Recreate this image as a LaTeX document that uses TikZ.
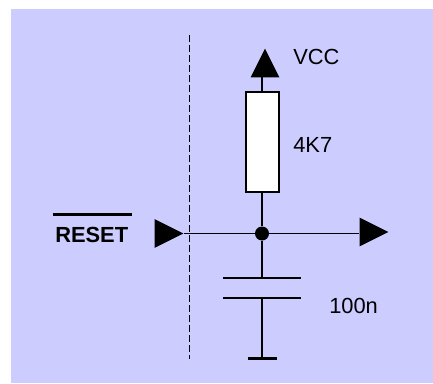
\documentclass[tikz,border=0pt]{standalone}
\usepackage{fontspec}
\setmainfont{Liberation Sans}
\usetikzlibrary{shapes.geometric}
\definecolor{panel}{HTML}{CCCCFF}
\tikzstyle{wire} = [line width=1.2pt, black]
\tikzstyle{plate} = [line width=1.4pt, black]
\tikzstyle{resbox} = [rectangle, minimum width=24.75pt, minimum height=75pt, inner sep=0pt, fill=white, draw=black, line width=1pt]
\tikzstyle{tip} = [isosceles triangle, isosceles triangle stretches, minimum width=21.5pt, minimum height=21.5pt, inner sep=0pt, fill=black]
\tikzstyle{dotnode} = [circle, minimum size=10.5pt, inner sep=0pt, fill=black]
\tikzstyle{lbl} = [inner sep=0pt, anchor=base west, font=\fontsize{16.4}{19}\selectfont]

\begin{document}
\begin{tikzpicture}[x=0.75pt, y=-0.75pt]
        \useasboundingbox (0,0) rectangle (433,383);
        \fill[panel] (11,9) rectangle (433,383);

        \node[resbox] (res) at (262.5,142) {};
        \node[dotnode] (dot) at (262,233.5) {};
        \node[tip, anchor=apex] (inp) at (184,233.5) {};
        \node[tip, anchor=apex] (outp) at (389,232) {};
        \node[tip, rotate=90, anchor=apex] (vcc) at (265,48) {};

        \coordinate (vccwire) at (262,77);
        \coordinate (capa) at (262,278);
        \coordinate (capb) at (262,298);
        \coordinate (gnd) at (262,358.5);
        \coordinate (sepa) at (189.5,35);
        \coordinate (sepb) at (189.5,359);

        % Wires
        \draw[wire] (inp.apex) -- (dot);
        \draw[wire] (dot) -- (outp.west |- dot);
        \draw[plate] (vccwire) -- (res.north -| vccwire);
        \draw[plate] (res.south -| dot) -- (dot);
        \draw[plate] (dot) -- (capa);
        \draw[plate] (capb) -- (gnd);

        % Capacitor and ground
        \draw[plate] (capa) ++(-39,0) -- ++(78,0);
        \draw[plate] (capb) ++(-39,0) -- ++(78,0);
        \draw[line width=2.2pt] (gnd) ++(-14.5,0) -- ++(29,0);

        % Boundary
        \draw[line width=1.2pt, dash pattern=on 5pt off 2.5pt] (sepa) -- (sepb);

        % Text Labels
        \node[lbl] (vcclabel) at (293,64) {VCC};
        \node[lbl] (reslabel) at (293,152) {4K7};
        \node[lbl] (caplabel) at (329,313) {100n};
        \node[lbl, font=\fontsize{16.4}{19}\selectfont\bfseries] (reset) at (55,242) {RESET};
        \draw[line width=2.2pt] (53,214.5) -- (132,214.5);
\end{tikzpicture}
\end{document}
